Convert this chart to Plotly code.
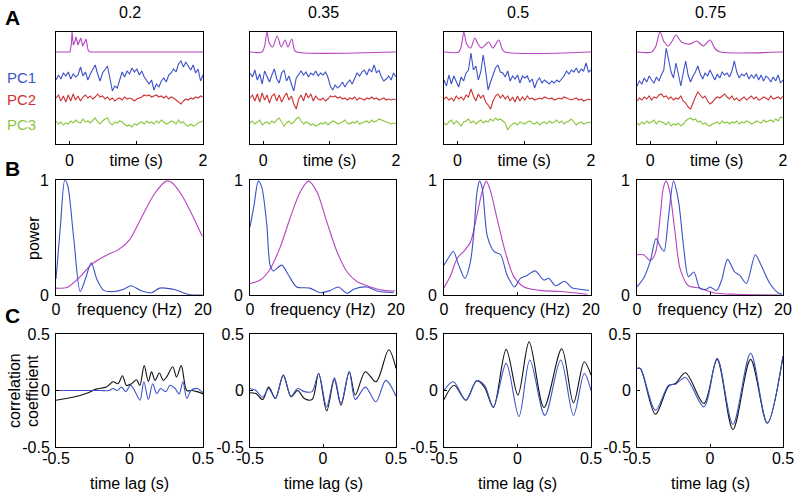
import numpy as np
import plotly.graph_objects as go

W, H = 800, 499
FONT = "Liberation Sans, Arial, Helvetica, sans-serif"

conditions = ["0.2", "0.35", "0.5", "0.75"]

# ---------------- Row A : stimulus envelope (height above baseline, px units) ----------------
stim_t = [
    [-0.2, 0.01, 0.03, 0.04, 0.06, 0.08, 0.10, 0.13, 0.17, 0.20, 0.25, 0.28, 0.30, 2.0],
    [-0.2, -0.02, 0.02, 0.056, 0.09, 0.14, 0.21, 0.27, 0.33, 0.37, 0.43, 0.47, 0.50, 2.0],
    [-0.2, 0.02, 0.06, 0.097, 0.14, 0.20, 0.26, 0.31, 0.36, 0.47, 0.53, 0.62, 0.67, 0.71, 2.0],
    [-0.2, 0.02, 0.08, 0.147, 0.21, 0.27, 0.33, 0.39, 0.47, 0.60, 0.70, 0.80, 0.90, 0.98, 1.06, 2.0],
]
stim_h = [
    [0, 0, 8, 20, 7, 10, 15, 7, 14, 6, 13, 2, 0, 0],
    [0, 0, 6, 20, 9, 5, 16, 5, 12, 5, 13, 2, 0, 0],
    [0, 0, 6, 20, 8, 4, 14, 8, 4, 10, 4, 12, 3, 0, 0],
    [0, 0, 5, 20, 10, 6, 11, 17, 10, 8, 11, 6, 12, 3, 0, 0],
]

# principal component traces (deviation from their own centre line, px units)
pc1 = [
    [-2, 3, -1, 5, 2, 6, -1, 4, 1, 3, 11, 2, 6, -2, 4, 8, 13, 4, -3, 5, 9, 12, 0, -13, -8, -10, -2, 6, 1, 7,
     4, 10, 6, 9, 3, 7, 1, -3, -6, -2, -12, -6, -9, -3, 0, -4, 3, 5, 9, 6, 14, 17, 11, 16, 12, 8, 13, 5, 9, -3, 3],
    [5, 1, 8, -2, 4, -6, 7, 2, -4, 3, 9, -1, -5, 5, 8, -3, 2, -6, -13, 0, 4, 7, 3, 6, 1, 5, 3, 7, 2, 5,
     3, 6, 1, -8, -12, -7, -10, -8, -4, -9, -5, -2, -6, 0, 5, 2, 6, 8, 3, 9, 6, 13, 5, 8, 1, -3, -1, 2, -2, 5, 1],
    [-2, -8, 3, -6, 2, -4, -9, 1, -3, 5, 8, 25, 8, 12, -2, 6, 23, 7, -12, -4, 3, 10, 13, 6, 5, 1, 7, -3, 2, -1,
     3, -5, 2, 0, 2, -4, -1, -10, -3, 0, -5, -2, -4, -6, -3, -5, -2, -4, -1, 2, 7, 4, 8, 6, 10, 5, 9, 7, 15, 6, 8],
    [-8, -3, -6, 0, -4, 2, -2, -5, 1, -3, 3, 8, 30, 18, 6, 0, 15, 4, -8, 5, 17, 3, -4, 2, 6, 12, 4, -1, 5, 2,
     8, 3, -2, 4, 0, 6, 3, 5, 1, 7, 17, 6, 0, 4, 2, 5, -1, 3, 0, 4, -2, 3, -3, 2, 0, -4, 1, -3, 3, -5, -2],
]
pc2 = [
    [1, 4, -2, 3, -3, 4, -2, 5, -1, 3, -2, 2, 4, 1, 3, 0, 2, 5, 2, 3, 0, 2, -1, 1, -2, 0, 1, -1, 2, 0,
     1, 0, -2, 0, 1, 2, 4, 3, 4, 2, 3, 4, 2, 3, 1, 3, 0, 2, 1, -1, -3, -5, -2, 0, -1, 1, 0, 2, 1, 3, 2],
    [1, 4, -2, 5, -3, 6, -1, 4, -4, 3, 5, -2, 4, -3, 2, 6, -1, 3, -5, -10, 0, 4, -2, 6, 1, 5, -2, 3, 0, -1,
     1, -2, 0, 3, 2, 3, 1, 2, 0, 1, -1, 1, 0, 2, -1, 1, 0, -1, 1, 0, 2, 0, 1, -1, 0, 1, -1, 0, -1, 0, -1],
    [0, 2, -1, 1, -2, 3, 0, 2, -1, 4, 2, 10, 3, -2, 5, 1, 4, -3, -6, -10, -2, 3, 5, 1, 4, 0, 3, -2, 2, -3,
     3, -2, 2, -1, 3, 0, 1, -1, 0, 1, 0, 2, 1, 0, 1, -1, 0, 1, 0, 2, 1, 0, -1, 0, 1, -1, 0, -2, -1, 0, -1],
    [-2, 1, -1, 2, 0, 3, -1, 2, 1, 4, 5, 2, 3, 0, 2, -1, 1, 0, 3, -2, -4, -8, -10, -3, 2, 7, 4, 1, 3, -2,
     -5, -3, 0, 2, 1, 3, 5, 2, 0, 3, -1, 1, -2, 0, 2, -1, 1, 3, 0, 2, -1, 0, 2, 1, -1, 3, 0, 1, 2, 0, 3],
]
pc3 = [
    [2, -1, 1, -2, 0, -1, 2, 0, 3, 1, 0, 4, 1, 2, 0, 3, 5, 1, -1, 2, 4, 5, 0, -2, 1, 0, 2, 1, -1, -3,
     -2, -4, -1, -2, 0, 1, -1, 2, 0, 1, -1, 2, 0, 3, 1, -1, 0, 2, 1, -1, 3, 0, 1, -2, -3, -1, -3, -2, 0, 1, 2],
    [0, 2, -1, 1, 3, -2, 0, 1, -1, 2, 0, 3, 5, 1, -3, 0, 2, -1, 1, 4, 6, 2, -1, 1, 0, -2, -1, -3, -2, 0,
     -1, 1, -2, 0, 2, 1, -1, 0, 1, 3, 0, -1, 1, 0, 2, -1, 0, 1, 2, 0, 3, 1, 2, 4, 3, 2, 1, 0, -1, 0, -1],
    [0, -2, 1, 3, -1, 2, 0, -3, 1, 2, 4, 0, 2, -1, 1, 3, 0, 2, 1, 4, 2, 5, 3, 4, 2, 0, -7, -3, -1, 0,
     -2, 1, 0, -1, 1, 2, 0, -1, 1, -2, 0, 1, -1, 2, 0, 1, 3, 0, 2, -1, 1, 2, 4, 1, -2, 0, 1, -1, 0, 1, 0],
    [0, -2, 1, -1, 2, 0, 1, 3, -1, 2, 1, 0, -2, 1, -3, -1, -2, 0, -3, -1, 2, 4, 5, 3, 4, 1, 2, -1, 0, -2,
     -3, -1, 0, 1, -1, 2, 0, 1, -1, 1, 0, 2, -1, 1, 0, 2, 1, -1, 0, 2, 1, 0, 3, 1, 2, 3, 1, 4, 2, 6, 5],
]

# ---------------- Row B : power spectra ----------------
freq_blue = [
    [0, 0.6, 1.2, 1.6, 2.4, 3.3, 4.0, 4.8, 5.6, 6.5, 7.9, 9.2, 10.2, 11.5, 13.0, 14.1, 16.2, 18.0, 19.9],
    [0, 0.55, 1.14, 1.6, 2.3, 2.75, 3.2, 4.35, 5.3, 6.4, 8.2, 9.6, 11.0, 12.1, 13.3, 14.2, 16.0, 17.4, 19.7],
    [0, 0.68, 1.27, 2.0, 2.85, 3.6, 4.07, 4.5, 4.84, 5.2, 5.9, 6.8, 7.7, 8.6, 9.6, 10.4, 11.3, 12.4, 13.6,
     14.25, 15.2, 16.4, 17.4, 18.55, 19.7],
    [0, 0.9, 1.8, 2.6, 3.2, 3.7, 4.3, 5.0, 5.7, 6.4, 7.05, 7.8, 8.6, 9.5, 10.0, 10.9, 11.6, 12.4, 13.4, 14.1,
     15.0, 16.2, 17.0, 18.2, 19.3, 19.9],
]
pow_blue = [
    [0.14, 0.6, 1.0, 0.95, 0.5, 0.03, 0.14, 0.28, 0.13, 0.04, 0.03, 0.05, 0.08, 0.04, 0.02, 0.06, 0.045, 0.005, 0.0],
    [0.59, 0.78, 0.99, 0.94, 0.61, 0.26, 0.21, 0.26, 0.17, 0.07, 0.06, 0.02, 0.04, 0.07, 0.015, 0.05, 0.07, 0.035, 0.02],
    [0.26, 0.33, 0.38, 0.26, 0.145, 0.29, 0.55, 0.90, 0.99, 0.93, 0.51, 0.38, 0.35, 0.17, 0.07, 0.145, 0.17, 0.21,
     0.13, 0.145, 0.08, 0.12, 0.064, 0.05, 0.04],
    [0.07, 0.145, 0.29, 0.49, 0.42, 0.38, 0.67, 0.99, 0.81, 0.41, 0.16, 0.20, 0.06, 0.05, 0.07, 0.04, 0.13, 0.31,
     0.20, 0.17, 0.10, 0.35, 0.26, 0.10, 0.02, 0.006],
]
freq_mag = [
    [0, 1.5, 3.3, 4.9, 7.0, 8.4, 10.0, 11.6, 13.4, 15.0, 15.7, 17.1, 18.5, 19.9],
    [0, 1.4, 2.7, 4.1, 5.5, 6.9, 8.0, 9.15, 10.5, 11.9, 13.3, 14.6, 16.5, 18.3, 19.9],
    [0, 0.9, 1.8, 2.7, 3.6, 4.5, 5.2, 5.75, 6.3, 7.2, 8.4, 9.5, 10.9, 13.1, 15.8, 19.5],
    [0, 0.9, 1.8, 2.5, 3.2, 3.6, 4.0, 4.45, 5.2, 5.9, 7.05, 8.6, 10.45, 13.6, 19.8],
]
pow_mag = [
    [0.06, 0.065, 0.16, 0.27, 0.35, 0.39, 0.48, 0.67, 0.88, 0.99, 0.98, 0.87, 0.70, 0.51],
    [0.10, 0.13, 0.22, 0.41, 0.67, 0.90, 0.99, 0.90, 0.64, 0.38, 0.20, 0.12, 0.07, 0.04, 0.035],
    [0.064, 0.17, 0.32, 0.38, 0.46, 0.70, 0.90, 0.99, 0.91, 0.67, 0.36, 0.16, 0.07, 0.04, 0.03, 0.006],
    [0.35, 0.35, 0.30, 0.36, 0.70, 0.93, 0.99, 0.91, 0.55, 0.23, 0.08, 0.06, 0.02, 0.006, 0.0],
]

# ---------------- Row C : correlation coefficients ----------------
lag_black = [
    [-0.5, -0.386, -0.295, -0.226, -0.158, -0.112, -0.078, -0.048, -0.02, 0.014, 0.048, 0.07, 0.10, 0.128, 0.15,
     0.174, 0.203, 0.23, 0.253, 0.294, 0.32, 0.352, 0.39, 0.425, 0.46, 0.5],
    [-0.5, -0.459, -0.413, -0.372, -0.326, -0.272, -0.219, -0.174, -0.128, -0.075, -0.03, 0.025, 0.078, 0.123,
     0.18, 0.221, 0.29, 0.363, 0.45, 0.5],
    [-0.5, -0.431, -0.351, -0.278, -0.225, -0.164, -0.077, 0.003, 0.079, 0.18, 0.301, 0.381, 0.454, 0.5],
    [-0.5, -0.477, -0.374, -0.283, -0.237, -0.168, -0.042, 0.049, 0.157, 0.278, 0.392, 0.5],
]
cc_black = [
    [-0.086, -0.06, -0.027, 0.012, 0.03, 0.077, 0.06, 0.13, 0.044, 0.06, 0.095, 0.044, 0.22, 0.08, 0.165,
     0.09, 0.155, 0.09, 0.12, 0.21, 0.12, 0.22, 0.0, 0.0, -0.01, -0.03],
    [-0.02, -0.027, -0.08, 0.03, -0.07, 0.136, -0.056, 0.0, -0.07, -0.08, 0.15, -0.18, 0.098, -0.13, 0.166,
     -0.04, 0.166, 0.077, 0.36, 0.195],
    [-0.08, 0.047, -0.086, 0.086, 0.03, -0.15, 0.364, -0.04, 0.43, -0.15, 0.37, -0.11, 0.255, 0.136],
    [0.195, 0.195, -0.21, 0.04, 0.062, 0.157, -0.115, 0.275, -0.346, 0.275, -0.287, 0.305],
]
lag_blue = [
    [-0.5, -0.3, -0.2, -0.14, -0.112, -0.084, -0.055, -0.025, 0.007, 0.037, 0.071, 0.098, 0.128, 0.158, 0.185,
     0.212, 0.247, 0.276, 0.31, 0.338, 0.363, 0.39, 0.418, 0.459, 0.5],
    [-0.5, -0.459, -0.413, -0.372, -0.326, -0.272, -0.219, -0.174, -0.128, -0.075, -0.03, 0.025, 0.078, 0.123,
     0.18, 0.221, 0.29, 0.363, 0.43, 0.5],
    [-0.5, -0.436, -0.351, -0.278, -0.225, -0.164, -0.077, 0.01, 0.084, 0.186, 0.294, 0.381, 0.454, 0.5],
    [-0.5, -0.477, -0.374, -0.283, -0.237, -0.168, -0.042, 0.049, 0.157, 0.278, 0.392, 0.5],
]
cc_blue = [
    [0.0, 0.0, 0.0, 0.0, 0.018, 0.0, 0.03, -0.01, 0.047, -0.006, -0.086, 0.077, -0.08, 0.06, -0.027,
     0.018, -0.01, 0.047, 0.018, -0.03, 0.077, -0.07, 0.0, 0.018, -0.02],
    [0.018, 0.0, -0.06, 0.018, -0.07, 0.136, -0.05, 0.018, -0.01, -0.01, 0.15, -0.145, 0.115, -0.115, 0.166,
     -0.08, 0.03, -0.1, 0.09, -0.05],
    [0.0, 0.077, -0.086, 0.086, 0.047, -0.145, 0.24, -0.23, 0.27, -0.22, 0.27, -0.22, 0.15, 0.0],
    [0.195, 0.195, -0.175, 0.047, 0.056, 0.115, -0.145, 0.285, -0.3, 0.33, -0.29, 0.305],
]

# ---------------- styling ----------------
C_BLUE = "#3c52c8"
C_MAG = "#b644c0"
C_RED = "#cc3333"
C_GREEN = "#8cc63f"
C_BLACK = "#111111"

col_px = [(56, 203), (250, 396), (444, 591), (637, 783)]
row_px = [(32, 144), (180, 295), (334, 447)]

# vertical positions (px units inside row A axis, 0 = bottom, 112 = top)
A_RANGE = [0, 112]
BASE_STIM, BASE_PC1, BASE_PC2, BASE_PC3 = 92, 66, 45, 21


def fx(p):
    return p / W


def fy(p):
    return 1 - p / H


fig = go.Figure()
layout = dict(
    width=W, height=H, margin=dict(l=0, r=0, t=0, b=0, pad=0, autoexpand=False),
    paper_bgcolor="white", plot_bgcolor="white", showlegend=False,
    font=dict(family=FONT, size=16, color="black"),
)

base_axis = dict(
    showline=True, mirror=True, linecolor="black", linewidth=1,
    showgrid=False, zeroline=False, ticks="inside", ticklen=3, tickcolor="black",
    tickfont=dict(family=FONT, size=16, color="black"), fixedrange=True, automargin=False,
)

for r in range(3):
    for c in range(4):
        k = r * 4 + c + 1
        s = "" if k == 1 else str(k)
        xa = dict(base_axis)
        ya = dict(base_axis)
        xa.update(domain=[fx(col_px[c][0]), fx(col_px[c][1])], anchor="y" + s)
        ya.update(domain=[fy(row_px[r][1]), fy(row_px[r][0])], anchor="x" + s)
        if r == 0:
            xa.update(range=[-0.2, 2.0], tickvals=[0, 1, 2], ticktext=["0", "time (s)", "2"],
                      ticklabelstandoff=2)
            ya.update(range=A_RANGE, ticks="", showticklabels=False)
        elif r == 1:
            xa.update(range=[0, 20], tickvals=[0, 10, 20], ticktext=["0", "frequency (Hz)", "20"],
                      ticklabelstandoff=0)
            ya.update(range=[0, 1], tickvals=[0, 1], ticktext=["0", "1"], ticklabelstandoff=3)
        else:
            xa.update(range=[-0.5, 0.5], tickvals=[-0.5, 0, 0.5], ticktext=["-0.5", "0", "0.5"],
                      ticklabelstandoff=-3)
            ya.update(range=[-0.5, 0.5], tickvals=[-0.5, 0, 0.5], ticktext=["-0.5", "0", "0.5"],
                      ticklabelstandoff=2)
        layout["xaxis" + s] = xa
        layout["yaxis" + s] = ya

        xr, yr = "x" + s, "y" + s
        if r == 0:
            t_st = stim_t[c]
            fig.add_trace(go.Scatter(x=t_st, y=[BASE_STIM + h for h in stim_h[c]], mode="lines",
                                     line=dict(color=C_MAG, width=1.1, shape="spline" if c > 0 else "linear",
                                               smoothing=0.8),
                                     xaxis=xr, yaxis=yr, hoverinfo="skip"))
            for arr, base, col in ((pc1[c], BASE_PC1, C_BLUE), (pc2[c], BASE_PC2, C_RED),
                                   (pc3[c], BASE_PC3, C_GREEN)):
                tt = np.linspace(-0.2, 2.0, len(arr))
                fig.add_trace(go.Scatter(x=tt, y=[base + v for v in arr], mode="lines",
                                         line=dict(color=col, width=1.1),
                                         xaxis=xr, yaxis=yr, hoverinfo="skip"))
        elif r == 1:
            fig.add_trace(go.Scatter(x=freq_mag[c], y=pow_mag[c], mode="lines",
                                     line=dict(color=C_MAG, width=1.1, shape="spline", smoothing=0.8),
                                     xaxis=xr, yaxis=yr, hoverinfo="skip"))
            fig.add_trace(go.Scatter(x=freq_blue[c], y=pow_blue[c], mode="lines",
                                     line=dict(color=C_BLUE, width=1.1, shape="spline", smoothing=0.8),
                                     xaxis=xr, yaxis=yr, hoverinfo="skip"))
        else:
            fig.add_trace(go.Scatter(x=lag_black[c], y=cc_black[c], mode="lines",
                                     line=dict(color=C_BLACK, width=1.1, shape="spline", smoothing=0.9),
                                     xaxis=xr, yaxis=yr, hoverinfo="skip"))
            fig.add_trace(go.Scatter(x=lag_blue[c], y=cc_blue[c], mode="lines",
                                     line=dict(color=C_BLUE, width=1.1, shape="spline", smoothing=0.9),
                                     xaxis=xr, yaxis=yr, hoverinfo="skip"))

ann = []


def add_text(text, xp, yp, size=16, color="black", bold=False, angle=0):
    ann.append(dict(text=("<b>%s</b>" % text) if bold else text, x=fx(xp), y=fy(yp),
                    xref="paper", yref="paper", xanchor="center", yanchor="middle",
                    showarrow=False, textangle=angle,
                    font=dict(family=FONT, size=size, color=color)))


for c in range(4):
    cx = (col_px[c][0] + col_px[c][1]) / 2
    add_text(conditions[c], cx, 12)
    add_text("time lag (s)", cx, 483)

add_text("A", 12, 17, size=21, bold=True)
add_text("B", 12, 168, size=21, bold=True)
add_text("C", 12, 315, size=21, bold=True)
add_text("PC1", 21, 78, size=15, color=C_BLUE)
add_text("PC2", 21, 100, size=15, color=C_RED)
add_text("PC3", 21, 124, size=15, color=C_GREEN)
add_text("power", 33, 238, angle=-90)
add_text("correlation", 14, 391, angle=-90)
add_text("coefficient", 32, 391, angle=-90)

layout["annotations"] = ann
fig.update_layout(**layout)
fig.write_html("out.html", config={"displayModeBar": False},
               post_script="document.body.style.margin='0';document.body.style.padding='0';")
